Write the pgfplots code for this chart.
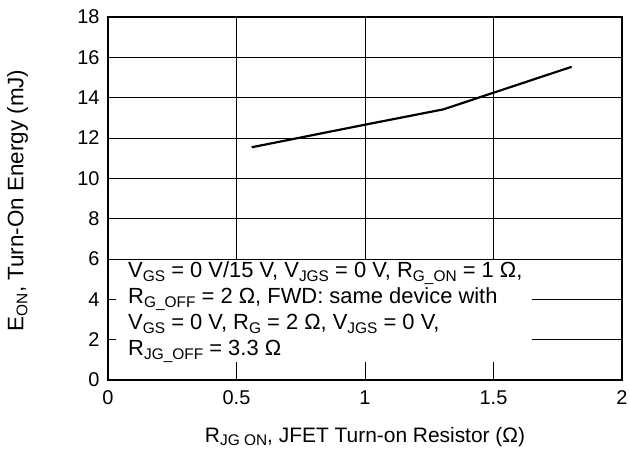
\documentclass[border=0pt]{standalone}
\usepackage{fontspec}
\setmainfont{Liberation Sans}
\usepackage{pgfplots}
\pgfplotsset{compat=1.18}
\newcommand\sub[1]{\raisebox{-0.35ex}{\fontsize{15.5}{16}\selectfont #1}}
\begin{document}
\begin{tikzpicture}
\begin{axis}[
  scale only axis, width=514bp, height=363bp,
  xmin=0, xmax=2, ymin=0, ymax=18,
  xtick={0,0.5,1,1.5,2}, ytick={0,2,4,6,8,10,12,14,16,18},
  xticklabels={0,0.5,1,1.5,2},
  grid=major, major grid style={black, line width=0.8pt},
  axis line style={black, line width=1.5pt},
  tick style={draw=none},
  ticklabel style={font=\fontsize{20}{24}\selectfont},
  xticklabel style={yshift=-7bp},
  yticklabel style={xshift=-5bp},
  /pgf/number format/assume math mode=true,
  xlabel={R\sub{JG ON}, JFET Turn-on Resistor (Ω)},
  ylabel={E\sub{ON}, Turn-On Energy (mJ)},
  label style={font=\fontsize{21}{25}\selectfont},
  xlabel style={at={(axis description cs:0.5,-0.1708)}, anchor=base},
  ylabel style={at={(axis description cs:-0.176,0.495)}, anchor=center, font=\fontsize{22.5}{26}\selectfont},
]
\addplot[black, line width=2.2pt] coordinates {(0.559,11.54) (1.0,12.66) (1.305,13.42) (1.804,15.53)};
\fill[white] (axis cs:0.031,0.89) rectangle (axis cs:1.65,5.93);
\begin{scope}[every node/.style={anchor=base west, inner sep=0pt, font=\fontsize{22}{26}\selectfont}]
\node at (axis cs:0.078,5.107) {V\sub{GS} = 0 V/15 V, V\sub{JGS} = 0 V, R\sub{G\_ON} = 1 Ω,};
\node at (axis cs:0.078,3.818) {R\sub{G\_OFF} = 2 Ω, FWD: same device with};
\node at (axis cs:0.078,2.528) {V\sub{GS} = 0 V, R\sub{G} = 2 Ω, V\sub{JGS} = 0 V,};
\node at (axis cs:0.078,1.239) {R\sub{JG\_OFF} = 3.3 Ω};
\end{scope}
\end{axis}
\pgfresetboundingbox
\path (-108bp,-69bp) rectangle (521bp,380bp);
\end{tikzpicture}
\end{document}
